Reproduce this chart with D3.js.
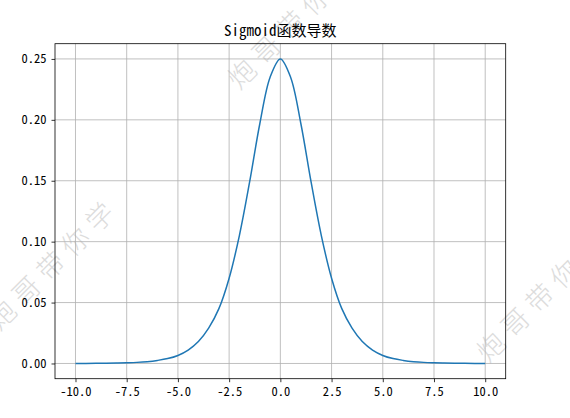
<!DOCTYPE html>
<html lang="zh">
<head>
<meta charset="utf-8">
<title>Sigmoid函数导数</title>
<script src="https://cdn.jsdelivr.net/npm/d3@7/dist/d3.min.js"></script>
<style>
  body { margin: 0; background: #fff; }
  svg { display: block; }
  .tick text { font-family: "Noto Sans Mono CJK SC", "Noto Sans CJK SC", monospace; }
</style>
</head>
<body>
<svg id="chart"></svg>
<script>

// values
var xs = [-10, -9.5, -9, -8.5, -8, -7.5, -7, -6.5, -6, -5.5, -5, -4.5, -4, -3.5, -3, -2.5, -2, -1.5, -1, -0.5,
          0, 0.5, 1, 1.5, 2, 2.5, 3, 3.5, 4, 4.5, 5, 5.5, 6, 6.5, 7, 7.5, 8, 8.5, 9, 9.5, 10];
var ys = [0.00005, 0.00007, 0.0001, 0.0002, 0.0003, 0.00055, 0.0009, 0.0015, 0.0025, 0.0040, 0.0066, 0.011, 0.018, 0.029, 0.045, 0.070, 0.105, 0.149, 0.197, 0.235,
          0.25, 0.235, 0.197, 0.149, 0.105, 0.070, 0.045, 0.029, 0.018, 0.011, 0.0066, 0.0040, 0.0025, 0.0015, 0.0009, 0.00055, 0.0003, 0.0002, 0.0001, 0.00007, 0.00005];
var xTicks = [-10, -7.5, -5, -2.5, 0, 2.5, 5, 7.5, 10];
var yTicks = [0, 0.05, 0.10, 0.15, 0.20, 0.25];
var title = "Sigmoid函数导数";
var mark = "炮哥带你学";
// centre of the middle character of each watermark
var markSpots = [[51, 266], [291, 25], [540, 298]];

var width = 570, height = 418;
var mLeft = 55, mTop = 43.7, mRight = 505.7, mBottom = 378.7;

var svg = d3.select("#chart").attr("width", width).attr("height", height);

var x = d3.scaleLinear().domain([-11, 11]).range([mLeft, mRight]);
var y = d3.scaleLinear().domain([-0.0125, 0.2625]).range([mBottom, mTop]);

// watermarks (under everything), one glyph at a time along a 45deg line
var step = 24.5;
var chars = [];
markSpots.forEach(function(p) {
  mark.split("").forEach(function(c, i) {
    var cx = p[0] + (i - 2) * step, cy = p[1] - (i - 2) * step;
    // glyphs wholly outside the window are not drawn
    if (cx < width + 8 && cy > -8) chars.push({c: c, x: cx, y: cy});
  });
});
svg.append("g").selectAll("text").data(chars).enter().append("text")
    .attr("transform", function(d) { return "translate(" + d.x + "," + d.y + ") rotate(-45)"; })
    .attr("text-anchor", "middle")
    .attr("dy", "0.36em")
    .style("font-family", "\"Noto Sans CJK SC\", sans-serif")
    .style("font-weight", "300")
    .style("font-size", "27px")
    .attr("fill", "#dcdcdc")
    .text(function(d) { return d.c; });

// grid
svg.append("g").selectAll("line").data(xTicks).enter().append("line")
    .attr("x1", function(d) { return x(d); }).attr("x2", function(d) { return x(d); })
    .attr("y1", mTop).attr("y2", mBottom)
    .attr("stroke", "#b0b0b0").attr("stroke-width", 0.8);
svg.append("g").selectAll("line").data(yTicks).enter().append("line")
    .attr("y1", function(d) { return y(d); }).attr("y2", function(d) { return y(d); })
    .attr("x1", mLeft).attr("x2", mRight)
    .attr("stroke", "#b0b0b0").attr("stroke-width", 0.8);

// curve
var pts = xs.map(function(v, i) { return [v, ys[i]]; });
var line = d3.line()
    .x(function(d) { return x(d[0]); })
    .y(function(d) { return y(d[1]); })
    .curve(d3.curveCatmullRom.alpha(0.5));
svg.append("path").datum(pts)
    .attr("d", line)
    .attr("fill", "none")
    .attr("stroke", "#1f77b4")
    .attr("stroke-width", 1.5);

// axes
var xAxis = svg.append("g").attr("transform", "translate(0," + mBottom + ")")
    .call(d3.axisBottom(x).tickValues(xTicks).tickSize(3.5).tickPadding(5)
        .tickFormat(function(d) { return d3.format(".1f")(d).replace("−", "-"); }));
var yAxis = svg.append("g").attr("transform", "translate(" + mLeft + ",0)")
    .call(d3.axisLeft(y).tickValues(yTicks).tickSize(3.5).tickPadding(5)
        .tickFormat(d3.format(".2f")));
[xAxis, yAxis].forEach(function(a) {
  a.select(".domain").remove();
  a.selectAll(".tick line").attr("stroke", "#000").attr("stroke-width", 0.8);
  a.selectAll(".tick text").attr("fill", "#000").style("font-size", "12.5px");
});

// frame
svg.append("rect")
    .attr("x", mLeft).attr("y", mTop)
    .attr("width", mRight - mLeft).attr("height", mBottom - mTop)
    .attr("fill", "none").attr("stroke", "#000").attr("stroke-width", 0.8);

svg.append("text")
    .attr("x", (mLeft + mRight) / 2).attr("y", mTop - 8)
    .attr("text-anchor", "middle")
    .style("font-family", "\"Noto Sans Mono CJK SC\", \"Noto Sans CJK SC\", monospace")
    .style("font-size", "15px")
    .text(title);

</script>
</body>
</html>
